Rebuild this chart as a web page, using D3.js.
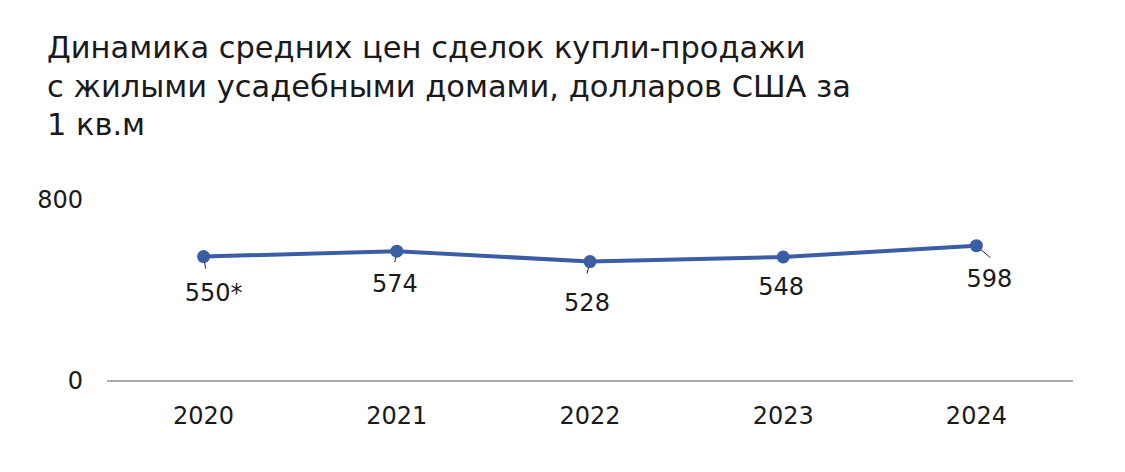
<!DOCTYPE html>
<html>
<head>
<meta charset="utf-8">
<script src="https://cdn.jsdelivr.net/npm/d3@7"></script>
<style>
  body { margin: 0; background: #fff; }
  text { font-family: "DejaVu Sans", sans-serif; fill: #1a1a1a; }
</style>
</head>
<body>
<div id="chart"></div>
<script>
// chart data
var years = ["2020", "2021", "2022", "2023", "2024"];
var prices = [550, 574, 528, 548, 598];
var priceLabels = ["550*", "574", "528", "548", "598"];
var yTicks = [0, 800];
var titleLines = [
  "Динамика средних цен сделок купли-продажи",
  "с жилыми усадебными домами, долларов США за",
  "1 кв.м"
];

// label placement relative to each point
var labelOffsets = [[10, 36], [-2, 33], [-3, 41], [-2, 30], [13, 33]];
var leaderEnds = [[2, 12], [-2, 11], [-3, 12], [0, 0], [14, 12]];

var W = 1125, H = 472;
var margin = { top: 200, right: 52, bottom: 91, left: 107 };
var width = W - margin.left - margin.right,
  height = H - margin.top - margin.bottom;

var svg = d3.select("#chart").append("svg")
  .attr("width", W)
  .attr("height", H);

// title
var title = svg.append("text")
  .attr("x", 47)
  .attr("y", 58)
  .style("font-size", "28px");
titleLines.forEach(function (t, i) {
  title.append("tspan")
    .attr("x", 47)
    .attr("dy", i === 0 ? 0 : 38.5)
    .text(t);
});
// fit first line to the reference width
var first = title.select("tspan").node().getComputedTextLength();
title.style("font-size", (28 * 759 / first) + "px");

var g = svg.append("g")
  .attr("transform", "translate(" + margin.left + "," + margin.top + ")");

var x = d3.scaleBand().domain(years).range([0, width]);
var y = d3.scaleLinear().domain([0, 800]).range([height, 0]);

// x axis line
g.append("line")
  .attr("x1", 0).attr("x2", width)
  .attr("y1", y(0)).attr("y2", y(0))
  .attr("stroke", "#8c8c8c")
  .attr("stroke-width", 1.5);

// year labels
g.selectAll(".year")
  .data(years)
  .enter().append("text")
  .attr("class", "year")
  .attr("x", function (d) { return x(d) + x.bandwidth() / 2; })
  .attr("y", y(0) + 43)
  .attr("text-anchor", "middle")
  .style("font-size", "24px")
  .text(function (d) { return d; });

// y tick labels
g.selectAll(".ytick")
  .data(yTicks)
  .enter().append("text")
  .attr("class", "ytick")
  .attr("x", -24)
  .attr("y", function (d) { return y(d) + 8; })
  .attr("text-anchor", "end")
  .style("font-size", "24px")
  .text(function (d) { return d; });

var cx = function (i) { return x(years[i]) + x.bandwidth() / 2; };

var line = d3.line()
  .x(function (d, i) { return cx(i); })
  .y(function (d) { return y(d); });

g.append("path")
  .datum(prices)
  .attr("fill", "none")
  .attr("stroke", "#3a5da6")
  .attr("stroke-width", 4)
  .attr("d", line);

// leader lines
g.selectAll(".leader")
  .data(prices)
  .enter().append("line")
  .attr("class", "leader")
  .attr("x1", function (d, i) { return cx(i); })
  .attr("y1", function (d) { return y(d); })
  .attr("x2", function (d, i) { return cx(i) + leaderEnds[i][0]; })
  .attr("y2", function (d, i) { return y(d) + leaderEnds[i][1]; })
  .attr("stroke", "#222")
  .attr("stroke-width", 1);

g.selectAll(".dot")
  .data(prices)
  .enter().append("circle")
  .attr("class", "dot")
  .attr("cx", function (d, i) { return cx(i); })
  .attr("cy", function (d) { return y(d); })
  .attr("r", 6.5)
  .attr("fill", "#3a5da6");

// value labels
g.selectAll(".val")
  .data(prices)
  .enter().append("text")
  .attr("class", "val")
  .attr("x", function (d, i) { return cx(i) + labelOffsets[i][0]; })
  .attr("y", function (d, i) { return y(d) + labelOffsets[i][1] + 8; })
  .attr("text-anchor", "middle")
  .style("font-size", "24px")
  .text(function (d, i) { return priceLabels[i]; });
</script>
</body>
</html>
